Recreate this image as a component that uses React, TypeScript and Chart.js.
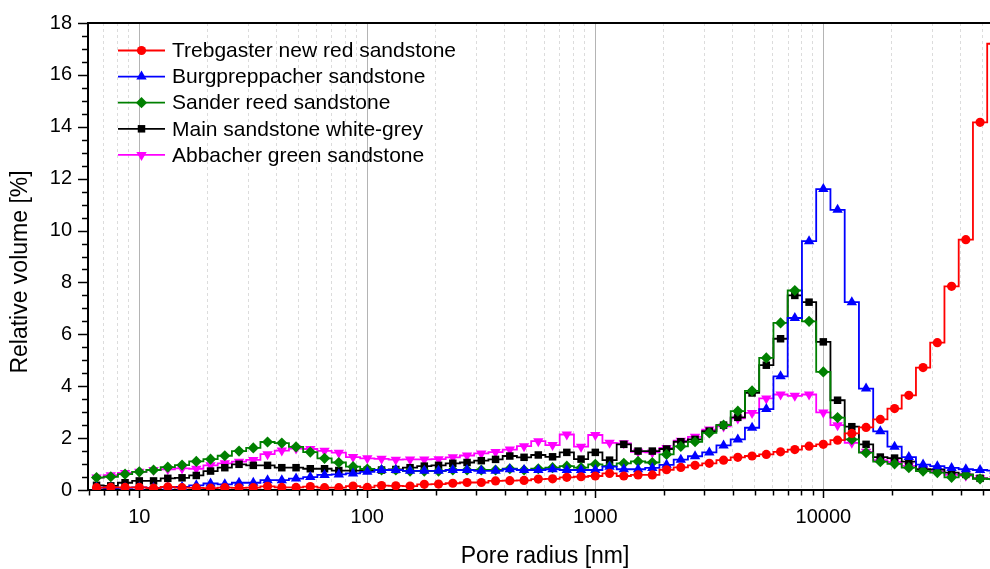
import React, { useEffect, useRef } from "react";
import { Chart, registerables } from "chart.js";

Chart.register(...registerables);

// Pore radius [nm] of each bin (centre)
const xValues = [
  6.494, 7.499, 8.66, 10, 11.548, 13.335, 15.399, 17.783, 20.535, 23.714, 27.384, 31.623, 36.517, 42.17, 48.697, 56.234,
  64.938, 74.989, 86.596, 100, 115.48, 133.35, 153.99, 177.83, 205.35, 237.14, 273.84, 316.23, 365.17, 421.7, 486.97, 562.34,
  649.38, 749.89, 865.96, 1000, 1154.8, 1333.5, 1539.9, 1778.3, 2053.5, 2371.4, 2738.4, 3162.3, 3651.7, 4217, 4869.7, 5623.4,
  6493.8, 7498.9, 8659.6, 10000, 11548, 13335, 15399, 17783, 20535, 23714, 27384, 31623, 36517, 42170, 48697, 56234,
];

const trebgaster = [
  0.09, 0.1, 0.1, 0.1, 0.07, 0.12, 0.09, 0.08, 0.07, 0.09, 0.08, 0.09, 0.14, 0.1, 0.1, 0.13, 0.09, 0.09, 0.15, 0.1,
  0.17, 0.16, 0.15, 0.22, 0.23, 0.26, 0.29, 0.29, 0.35, 0.36, 0.37, 0.42, 0.43, 0.49, 0.51, 0.54,
  0.64, 0.54, 0.58, 0.58, 0.78, 0.87, 0.95, 1.03, 1.15, 1.26, 1.31, 1.37, 1.47, 1.56, 1.69, 1.76,
  1.92, 2.18, 2.41, 2.72, 3.14, 3.65, 4.72, 5.68, 7.85, 9.65, 14.17, 17.2,
];

const burgpreppacher = [
  0.09, 0.07, 0.08, 0.1, 0.08, 0.1, 0.12, 0.18, 0.25, 0.22, 0.28, 0.28, 0.38, 0.38, 0.44, 0.5, 0.58, 0.6, 0.64, 0.7,
  0.77, 0.77, 0.74, 0.74, 0.74, 0.77, 0.77, 0.74, 0.74, 0.8, 0.77, 0.77, 0.8, 0.77, 0.77, 0.77,
  0.9, 0.8, 0.8, 0.85, 0.97, 1.17, 1.3, 1.45, 1.72, 1.95, 2.4, 3.12, 4.38, 6.63, 9.59, 11.6,
  10.8, 7.24, 3.91, 2.26, 1.67, 1.27, 0.98, 0.92, 0.85, 0.8, 0.77, 0.75,
];

const sanderReed = [
  0.48, 0.51, 0.61, 0.7, 0.77, 0.88, 0.96, 1.1, 1.19, 1.32, 1.5, 1.62, 1.85, 1.81, 1.66, 1.46, 1.22, 1.06, 0.9, 0.81,
  0.77, 0.77, 0.73, 0.73, 0.73, 0.77, 0.77, 0.77, 0.77, 0.82, 0.77, 0.82, 0.86, 0.92, 0.86, 0.99,
  0.92, 1.03, 1.1, 1.06, 1.37, 1.68, 1.86, 2.2, 2.5, 3.04, 3.82, 5.09, 6.44, 7.69, 6.5, 4.55,
  2.79, 1.95, 1.44, 1.09, 1.01, 0.86, 0.73, 0.67, 0.49, 0.58, 0.43, 0.42,
];

const mainWhiteGrey = [
  0.18, 0.16, 0.28, 0.35, 0.35, 0.45, 0.47, 0.56, 0.73, 0.86, 0.99, 0.95, 0.95, 0.86, 0.86, 0.82, 0.82, 0.75, 0.75, 0.76,
  0.77, 0.79, 0.86, 0.92, 0.95, 1.03, 1.06, 1.13, 1.18, 1.31, 1.26, 1.35, 1.28, 1.45, 1.19, 1.45,
  1.15, 1.76, 1.5, 1.5, 1.58, 1.86, 1.95, 2.27, 2.5, 2.8, 3.74, 4.81, 5.83, 7.5, 7.24, 5.71,
  3.46, 2.44, 1.76, 1.27, 1.23, 1.09, 0.8, 0.79, 0.67, 0.6, 0.45, 0.42,
];

const abbacherGreen = [
  0.48, 0.57, 0.66, 0.7, 0.77, 0.8, 0.83, 0.82, 0.95, 1.03, 1.09, 1.16, 1.38, 1.52, 1.6, 1.58, 1.51, 1.44, 1.27, 1.22,
  1.2, 1.17, 1.18, 1.18, 1.19, 1.26, 1.33, 1.41, 1.46, 1.56, 1.69, 1.88, 1.73, 2.14, 1.67, 2.12,
  1.82, 1.8, 1.47, 1.45, 1.62, 1.9, 2.05, 2.33, 2.45, 2.76, 2.97, 3.53, 3.68, 3.63, 3.68, 2.99,
  2.5, 1.82, 1.47, 1.15, 1.08, 0.93, 0.78, 0.72, 0.58, 0.55, 0.45, 0.42,
];

const seriesLabels = [
  "Trebgaster new red sandstone",
  "Burgpreppacher sandstone",
  "Sander reed sandstone",
  "Main sandstone white-grey",
  "Abbacher green sandstone",
];

const xMajorTicks = [10, 100, 1000, 10000];
const xMinorMultipliers = [2, 3, 4, 5, 6, 7, 8, 9];
const yMajorTicks = [0, 2, 4, 6, 8, 10, 12, 14, 16, 18];

const X_MIN = 5.957;
const X_MAX = 53830;
const FONT = "'Liberation Sans', Arial, sans-serif";

function allXTicks(): number[] {
  const out: number[] = [6, 7, 8, 9];
  for (const d of xMajorTicks) {
    out.push(d);
    for (const m of xMinorMultipliers) {
      const v = d * m;
      if (v <= X_MAX) out.push(v);
    }
  }
  return out;
}

const isMajorX = (v: number) => xMajorTicks.includes(v);

function drawMarker(ctx: CanvasRenderingContext2D, style: string, x: number, y: number, r: number, rot: number) {
  ctx.beginPath();
  if (style === "circle") {
    ctx.arc(x, y, r, 0, Math.PI * 2);
  } else if (style === "triangle") {
    const a0 = (rot * Math.PI) / 180;
    for (let i = 0; i < 3; i++) {
      const a = a0 + (i * 2 * Math.PI) / 3;
      const px = x + Math.sin(a) * r;
      const py = y - Math.cos(a) * r;
      if (i === 0) ctx.moveTo(px, py);
      else ctx.lineTo(px, py);
    }
    ctx.closePath();
  } else if (style === "rectRot") {
    ctx.moveTo(x - r, y);
    ctx.lineTo(x, y + r);
    ctx.lineTo(x + r, y);
    ctx.lineTo(x, y - r);
    ctx.closePath();
  } else if (style === "rect") {
    const s = r * Math.SQRT1_2;
    ctx.rect(x - s, y - s, 2 * s, 2 * s);
  }
  ctx.fill();
}

const decorPlugin = {
  id: "decor",
  afterDraw(chart: any) {
    const { ctx, chartArea } = chart;
    const xs = chart.scales.x;
    const ys = chart.scales.y;
    ctx.save();
    // top frame line
    ctx.strokeStyle = "#000";
    ctx.lineWidth = 2;
    ctx.beginPath();
    ctx.moveTo(chartArea.left - 1, chartArea.top);
    ctx.lineTo(chartArea.right, chartArea.top);
    ctx.stroke();

    // x tick marks
    ctx.lineWidth = 1.5;
    for (const v of allXTicks()) {
      const px = Math.round(xs.getPixelForValue(v)) + 0.5;
      const len = isMajorX(v) ? 8 : 5.5;
      ctx.beginPath();
      ctx.moveTo(px, chartArea.bottom);
      ctx.lineTo(px, chartArea.bottom + len);
      ctx.stroke();
    }
    // y tick marks
    for (let v = 0; v <= 18; v += 0.5) {
      const py = Math.round(ys.getPixelForValue(v)) + 0.5;
      const len = yMajorTicks.includes(v) ? 10 : 6;
      ctx.beginPath();
      ctx.moveTo(chartArea.left, py);
      ctx.lineTo(chartArea.left - len, py);
      ctx.stroke();
    }

    // axis titles
    ctx.fillStyle = "#000";
    ctx.font = `23px ${FONT}`;
    ctx.textAlign = "center";
    ctx.textBaseline = "middle";
    ctx.fillText("Pore radius [nm]", 545, 557);
    ctx.save();
    ctx.translate(21, 272);
    ctx.rotate(-Math.PI / 2);
    ctx.fillText("Relative volume [%]", 0, 0);
    ctx.restore();

    // legend
    ctx.font = `21px ${FONT}`;
    ctx.textAlign = "left";
    chart.data.datasets.forEach((ds: any, i: number) => {
      const y = 50.5 + 26.1 * i;
      ctx.strokeStyle = ds.borderColor;
      ctx.fillStyle = ds.borderColor;
      ctx.lineWidth = ds.borderWidth;
      ctx.beginPath();
      ctx.moveTo(118, y);
      ctx.lineTo(165, y);
      ctx.stroke();
      drawMarker(ctx, ds.pointStyle, 141.5, y, ds.pointRadius, ds.pointRotation || 0);
      ctx.fillStyle = "#000";
      ctx.fillText(ds.label, 172, y + 1);
    });
    ctx.restore();
  },
};

export default function App() {
  const ref = useRef<HTMLCanvasElement | null>(null);

  useEffect(() => {
    if (!ref.current) return;
    const mk = (arr: number[]) => xValues.map((x, i) => ({ x, y: arr[i] }));
    const base = { stepped: "middle" as const, borderWidth: 1.8, pointBorderWidth: 0 };
    const chart = new Chart(ref.current, {
      type: "line",
      data: {
        datasets: [
          { ...base, label: seriesLabels[0], data: mk(trebgaster), borderColor: "#ff0000", backgroundColor: "#ff0000", pointStyle: "circle", pointRadius: 4.6, pointRotation: 0 },
          { ...base, label: seriesLabels[1], data: mk(burgpreppacher), borderColor: "#0000ff", backgroundColor: "#0000ff", pointStyle: "triangle", pointRadius: 6, pointRotation: 0 },
          { ...base, label: seriesLabels[2], data: mk(sanderReed), borderColor: "#008000", backgroundColor: "#008000", pointStyle: "rectRot", pointRadius: 5.6, pointRotation: 0 },
          { ...base, label: seriesLabels[3], data: mk(mainWhiteGrey), borderColor: "#000000", backgroundColor: "#000000", pointStyle: "rect", pointRadius: 5.3, pointRotation: 0 },
          { ...base, label: seriesLabels[4], data: mk(abbacherGreen), borderColor: "#ff00ff", backgroundColor: "#ff00ff", pointStyle: "triangle", pointRadius: 6, pointRotation: 180 },
        ] as any,
      },
      options: {
        animation: false,
        responsive: false,
        devicePixelRatio: 1,
        layout: { autoPadding: false, padding: { top: 23, left: 0, right: 0, bottom: 0 } },
        plugins: { legend: { display: false }, tooltip: { enabled: false } },
        scales: {
          x: {
            type: "logarithmic",
            min: X_MIN,
            max: X_MAX,
            afterBuildTicks: (s: any) => {
              s.ticks = allXTicks().map((v) => ({ value: v }));
            },
            afterFit: (s: any) => {
              s.height = 79;
              s.paddingLeft = 0;
              s.paddingRight = 0;
            },
            ticks: {
              autoSkip: false,
              maxRotation: 0,
              padding: 15,
              color: "#000",
              font: { size: 20, family: FONT },
              callback: (v: any) => (isMajorX(Number(v)) ? String(v) : ""),
            },
            grid: {
              drawTicks: false,
              lineWidth: 1,
              color: (c: any) => (c.tick && isMajorX(c.tick.value) ? "#b4b4b4" : "#dcdcdc"),
            },
            border: {
              display: true,
              color: "#000",
              width: 2,
              dash: (c: any) => (c.type === "tick" && c.tick && !isMajorX(c.tick.value) ? [3, 3] : []),
            },
          },
          y: {
            type: "linear",
            min: 0,
            max: 18,
            afterFit: (s: any) => {
              s.width = 88;
              s.paddingTop = 0;
              s.paddingBottom = 0;
            },
            ticks: {
              stepSize: 0.5,
              autoSkip: false,
              padding: 16,
              color: "#000",
              font: { size: 20, family: FONT },
              callback: (v: any) => (yMajorTicks.includes(Number(v)) ? String(v) : ""),
            },
            grid: { drawTicks: false, drawOnChartArea: false },
            border: { display: true, color: "#000", width: 2 },
          },
        },
      } as any,
      plugins: [decorPlugin],
    });
    return () => chart.destroy();
  }, []);

  return (
    <div style={{ position: "absolute", left: 0, top: 0, width: 990, height: 569, background: "#fff" }}>
      <canvas ref={ref} width={990} height={569} style={{ display: "block" }} />
    </div>
  );
}
